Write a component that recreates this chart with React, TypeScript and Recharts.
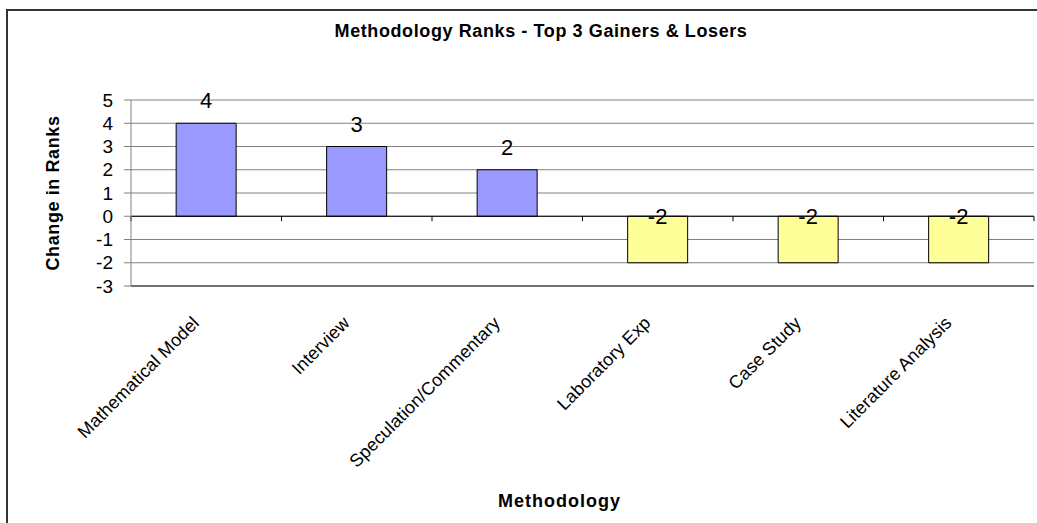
import { BarChart, Bar, Cell, XAxis, YAxis, CartesianGrid, ReferenceLine, LabelList, Label } from "recharts";

const methods = [
  "Mathematical Model",
  "Interview",
  "Speculation/Commentary",
  "Laboratory Exp",
  "Case Study",
  "Literature Analysis",
];
const rankChange = [4, 3, 2, -2, -2, -2];
const yTicks = [-3, -2, -1, 0, 1, 2, 3, 4, 5];

const data = methods.map((name, i) => ({ name, value: rankChange[i] }));

const FONT = "'Liberation Sans', Arial, sans-serif";
const GAIN = "#9999FF";
const LOSS = "#FFFF99";

// Rotated category labels hanging below the plot, ending at the category centre
const AngledTick = (props: any) => {
  const { x, y, payload } = props;
  return (
    <text
      transform={`translate(${x - 6},${y + 30}) rotate(-45)`}
      textAnchor="end"
      fontSize={18}
      letterSpacing={0.1}
      fontFamily={FONT}
      fill="#000"
    >
      {payload.value}
    </text>
  );
};

// zero line with the little category tick marks hanging off it
const ZeroLine = (props: any) => {
  const { x1, y1, x2 } = props;
  const step = (x2 - x1) / methods.length;
  return (
    <g>
      <line x1={x1} y1={y1} x2={x2} y2={y1} stroke="#000" strokeWidth={1} />
      {methods.concat([""]).map((_, i) => (
        <line key={i} x1={x1 + i * step} y1={y1} x2={x1 + i * step} y2={y1 + 5} stroke="#000" />
      ))}
    </g>
  );
};

const ValueLabel = (props: any) => {
  const { x, y, width, height, value } = props;
  const top = Math.min(y, y + height);
  const ty = value >= 0 ? top - 15 : top + 8;
  return (
    <text x={x + width / 2} y={ty} textAnchor="middle" fontSize={22} fontFamily={FONT} fill="#000">
      {value}
    </text>
  );
};

export default function App() {
  return (
    <div style={{ position: "absolute", left: 0, top: 0, width: 1037, height: 523, overflow: "hidden", background: "#fff" }}>
      <div
        style={{
          position: "absolute",
          left: 6,
          top: 9,
          width: 1100,
          height: 600,
          border: "2px solid #333",
        }}
      />
      <div
        style={{
          position: "absolute",
          left: 0,
          top: 21,
          width: 1082,
          textAlign: "center",
          fontFamily: FONT,
          fontWeight: "bold",
          fontSize: 18,
          letterSpacing: 0.6,
          lineHeight: "20px",
        }}
      >
        Methodology Ranks - Top 3 Gainers &amp; Losers
      </div>
      <div style={{ position: "absolute", left: 0, top: 0 }}>
        <BarChart
          width={1037}
          height={523}
          data={data}
          margin={{ top: 100, right: 3, bottom: 0, left: 0 }}
          barCategoryGap="30%"
        >
          <CartesianGrid vertical={false} stroke="#808080" />
          <XAxis
            dataKey="name"
            height={237}
            interval={0}
            tickLine={false}
            axisLine={{ stroke: "#222" }}
            tick={<AngledTick />}
          >
            <Label
              value="Methodology"
              position="center"
              dx={-23}
              dy={96}
              style={{ fontFamily: FONT, fontWeight: "bold", fontSize: 18, letterSpacing: 1, fill: "#000" }}
            />
          </XAxis>
          <YAxis
            width={131}
            domain={[-3, 5]}
            ticks={yTicks}
            interval={0}
            tickSize={7}
            tickMargin={11}
            axisLine={{ stroke: "#808080" }}
            tickLine={{ stroke: "#808080" }}
            tick={{ fontSize: 19, fontFamily: FONT, fill: "#000" }}
          >
            <Label
              value="Change in Ranks"
              angle={-90}
              position="center"
              dx={-13}
              style={{ fontFamily: FONT, fontWeight: "bold", fontSize: 18, letterSpacing: 0.6, fill: "#000", textAnchor: "middle" }}
            />
          </YAxis>
          <ReferenceLine y={0} shape={<ZeroLine />} />
          <Bar dataKey="value" stroke="#000" strokeWidth={1} isAnimationActive={false}>
            {data.map((d, i) => (
              <Cell key={`cell-${i}`} fill={d.value >= 0 ? GAIN : LOSS} />
            ))}
            <LabelList dataKey="value" content={<ValueLabel />} />
          </Bar>
        </BarChart>
      </div>
    </div>
  );
}
